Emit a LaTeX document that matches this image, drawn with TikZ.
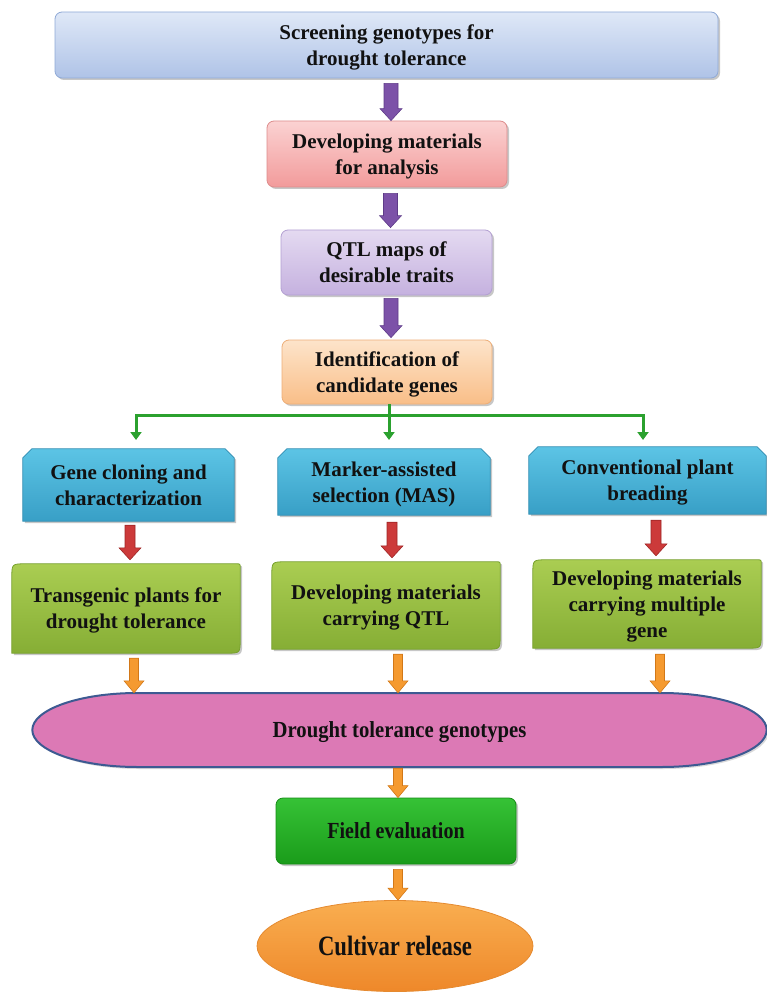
\documentclass[tikz,border=0pt]{standalone}
\usepackage{fontspec}
\setmainfont{Liberation Serif}
\usepackage{graphicx}
\usetikzlibrary{shapes.geometric,shadows,calc,arrows.meta}
\pgfdeclarelayer{background}
\pgfsetlayers{background,main}

% palette
\definecolor{txt}{HTML}{111111}
\definecolor{scrA}{HTML}{DFE8F7}\definecolor{scrB}{HTML}{AFC3E7}\definecolor{scrD}{HTML}{8FA9D6}
\definecolor{pkA}{HTML}{FBD2D2}\definecolor{pkB}{HTML}{F29B9B}\definecolor{pkD}{HTML}{DD8C8C}
\definecolor{lvA}{HTML}{E4DAF1}\definecolor{lvB}{HTML}{C5B1DF}\definecolor{lvD}{HTML}{B3A0D2}
\definecolor{ogA}{HTML}{FDE4CA}\definecolor{ogB}{HTML}{F9BE88}\definecolor{ogD}{HTML}{EDAE78}
\definecolor{blA}{HTML}{5CC4E5}\definecolor{blB}{HTML}{389FC6}\definecolor{blD}{HTML}{2F8DB2}
\definecolor{grA}{HTML}{AACD52}\definecolor{grB}{HTML}{86AE35}\definecolor{grD}{HTML}{76A02C}
\definecolor{dtF}{HTML}{DC79B5}\definecolor{dtD}{HTML}{3D5A92}
\definecolor{feA}{HTML}{36C236}\definecolor{feB}{HTML}{1A9C1A}\definecolor{feD}{HTML}{168C16}
\definecolor{cvA}{HTML}{F9AE50}\definecolor{cvB}{HTML}{EE882A}\definecolor{cvD}{HTML}{E58A30}
\definecolor{purF}{HTML}{7C52A8}\definecolor{purD}{HTML}{5E3B88}
\definecolor{redF}{HTML}{CC3A3A}\definecolor{redD}{HTML}{9E2626}
\definecolor{orF}{HTML}{F59A30}\definecolor{orD}{HTML}{D27818}
\definecolor{lnG}{HTML}{2BA12F}

% horizontally condensed text
\newcommand\cond[2][0.88]{\scalebox{#1}[1]{#2}}

% vertical block arrow: style, start (y), x source, end (y)
\newcommand\blockarrow[4]{%
  \path[#1] let \p1=#2, \p2=#3, \p3=#4, \n1={\pgfkeysvalueof{/tikz/shaft}}, \n2={\pgfkeysvalueof{/tikz/headw}}, \n3={\pgfkeysvalueof{/tikz/headl}} in
    (\x2-\n1,\y1) -- (\x2-\n1,\y3+\n3) -- (\x2-\n2,\y3+\n3) -- (\x2,\y3)
    -- (\x2+\n2,\y3+\n3) -- (\x2+\n1,\y3+\n3) -- (\x2+\n1,\y1) -- cycle;}

% outlines of the snipped (blue) and leaf-shaped (green) boxes
\newcommand\snippath[1]{(#1.south west) -- ([yshift=-9pt]#1.north west) -- ([xshift=9pt]#1.north west)
  -- ([xshift=-9pt]#1.north east) -- ([yshift=-9pt]#1.north east) -- (#1.south east) -- cycle}
\newcommand\leafpath[1]{(#1.south west) -- ([yshift=-14pt]#1.north west) .. controls (#1.north west) .. ([xshift=14pt]#1.north west)
  -- ([xshift=-4pt]#1.north east) .. controls (#1.north east) .. ([yshift=-4pt]#1.north east)
  -- ([yshift=14pt]#1.south east) .. controls (#1.south east) .. ([xshift=-14pt]#1.south east) -- cycle}
% long capsule with elliptic ends (caps 105 wide, half height 37)
\newcommand\capsulepath[1]{(#1.west)
  .. controls ($(#1.west)+(0,-20.4)$) and ($(#1.west)+(47,-37)$) .. ($(#1.west)+(105,-37)$)
  -- ($(#1.east)+(-105,-37)$)
  .. controls ($(#1.east)+(-47,-37)$) and ($(#1.east)+(0,-20.4)$) .. (#1.east)
  .. controls ($(#1.east)+(0,20.4)$) and ($(#1.east)+(-47,37)$) .. ($(#1.east)+(-105,37)$)
  -- ($(#1.west)+(105,37)$)
  .. controls ($(#1.west)+(47,37)$) and ($(#1.west)+(0,20.4)$) .. (#1.west) -- cycle}

\tikzset{
  shaft/.initial=7pt, headw/.initial=11pt, headl/.initial=12pt,
  base/.style={align=center, text=txt, inner sep=0pt, text depth=0pt,
    font=\bfseries\fontsize{21}{26}\selectfont},
  shadowed/.style={drop shadow={shadow xshift=2pt,shadow yshift=-2pt,opacity=0.22,fill=black}},
  roundbox/.style={base, rectangle, rounded corners=7pt, line width=0.8pt, shadowed},
  plainbox/.style={base, rectangle},
  shade2/.style n args={3}{top color=#1, bottom color=#2, draw=#3, line width=0.8pt},
  parrow/.style={fill=purF, draw=purD, line width=0.6pt, shaft=7pt, headw=11pt, headl=12pt},
  rarrow/.style={fill=redF, draw=redD, line width=0.6pt, shaft=5pt, headw=11pt, headl=12pt},
  oarrow/.style={fill=orF, draw=orD, line width=0.6pt, shaft=4.5pt, headw=10pt, headl=12pt},
  gline/.style={draw=lnG, line width=3pt},
  gtip/.style={-{Triangle[width=11pt,length=8pt]}},
}

\begin{document}
\begin{tikzpicture}[x=1pt,y=-1pt]
\useasboundingbox (0,0) rectangle (767,992);

% main chain
\node[roundbox, shade2={scrA}{scrB}{scrD}, minimum width=663pt, minimum height=66pt] (scr) at (386.5,45)
  {Screening genotypes for\\drought tolerance};
\node[roundbox, shade2={pkA}{pkB}{pkD}, minimum width=240pt, minimum height=66pt] (pk) at (387,154)
  {Developing materials\\for analysis};
\node[roundbox, shade2={lvA}{lvB}{lvD}, minimum width=211pt, minimum height=65pt] (lav) at (386.5,262.5)
  {QTL maps of\\desirable traits};
\node[roundbox, shade2={ogA}{ogB}{ogD}, minimum width=210pt, minimum height=64pt] (og) at (387,372)
  {Identification of\\candidate genes};

% three routes
\node[plainbox, minimum width=211pt, minimum height=72pt] (b1) at (128.5,485) {Gene cloning and\\characterization};
\node[plainbox, minimum width=212pt, minimum height=66pt] (b2) at (384,482) {Marker-assisted\\selection (MAS)};
\node[plainbox, minimum width=237pt, minimum height=67pt] (b3) at (647.5,480.5) {Conventional plant\\breading};

\node[plainbox, minimum width=228pt, minimum height=89pt] (g1) at (126,608.5) {Transgenic plants for\\drought tolerance};
\node[plainbox, minimum width=228pt, minimum height=87pt] (g2) at (386,605.5) {Developing materials\\carrying QTL};
\node[plainbox, minimum width=228pt, minimum height=88pt] (g3) at (647,604) {Developing materials\\carrying multiple\\gene};

% convergence
\node[plainbox, minimum width=734pt, minimum height=74pt] (dt) at (399.5,730)
  {\fontsize{23}{27}\selectfont\cond[0.9]{Drought tolerance genotypes}};
\node[roundbox, shade2={feA}{feB}{feD}, minimum width=240pt, minimum height=66pt] (fe) at (396,831)
  {\fontsize{23}{27}\selectfont\cond[0.87]{Field evaluation}};
\node[base, ellipse, shade2={cvA}{cvB}{cvD}, minimum width=276pt, minimum height=91pt] (cv) at (395,946)
  {\fontsize{28}{30}\selectfont\cond[0.81]{Cultivar release}};

% custom box shapes behind the texts
\begin{pgfonlayer}{background}
  \foreach \n in {b1,b2,b3} {
    \fill[black, opacity=0.22, transform canvas={shift={(2pt,-2pt)}}] \snippath{\n};
    \path[shade2={blA}{blB}{blD}] \snippath{\n};
  }
  \foreach \n in {g1,g2,g3} {
    \fill[black, opacity=0.22, transform canvas={shift={(2pt,-2pt)}}] \leafpath{\n};
    \path[shade2={grA}{grB}{grD}] \leafpath{\n};
  }
  \fill[black, opacity=0.15, transform canvas={shift={(2pt,-2pt)}}] \capsulepath{dt};
  \path[fill=dtF, draw=dtD, line width=2pt] \capsulepath{dt};
\end{pgfonlayer}

% purple arrows
\blockarrow{parrow}{([yshift=-5pt]scr.south)}{([xshift=4pt]pk.north)}{(pk.north)}
\blockarrow{parrow}{([yshift=-6pt]pk.south)}{([xshift=4pt]lav.north)}{([yshift=2pt]lav.north)}
\blockarrow{parrow}{([yshift=-3pt]lav.south)}{([xshift=4pt]og.north)}{([yshift=2pt]og.north)}

% green branching connector
\coordinate (jl) at (136,415);
\coordinate (jr) at (643,415);
\coordinate (el) at (136,440);
\coordinate (er) at (643,440);
\coordinate (em) at (389,440);
\draw[gline, {Triangle[width=11pt,length=8pt]}-{Triangle[width=11pt,length=8pt]}] (el) -- (jl) -- (jr) -- (er);
\draw[gline, gtip] ([xshift=2pt]og.south) -- (em);

% red arrows
\blockarrow{rarrow}{([yshift=-4pt]b1.south)}{([xshift=4pt]g1.north)}{([yshift=4pt]g1.north)}
\blockarrow{rarrow}{([yshift=-7pt]b2.south)}{([xshift=6pt]g2.north)}{([yshift=4pt]g2.north)}
\blockarrow{rarrow}{([yshift=-6pt]b3.south)}{([xshift=9pt]g3.north)}{([yshift=4pt]g3.north)}

% orange arrows
\blockarrow{oarrow}{([yshift=-5pt]g1.south)}{([xshift=8pt]g1.south)}{(dt.north)}
\blockarrow{oarrow}{([yshift=-5pt]g2.south)}{([xshift=12pt]g2.south)}{(dt.north)}
\blockarrow{oarrow}{([yshift=-6pt]g3.south)}{([xshift=13pt]g3.south)}{(dt.north)}
\blockarrow{oarrow}{([yshift=-1pt]dt.south)}{([xshift=2pt]fe.north)}{(fe.north)}
\blockarrow{oarrow}{([yshift=-5pt]fe.south)}{([xshift=2pt]fe.south)}{(cv.north)}
\end{tikzpicture}
\end{document}
